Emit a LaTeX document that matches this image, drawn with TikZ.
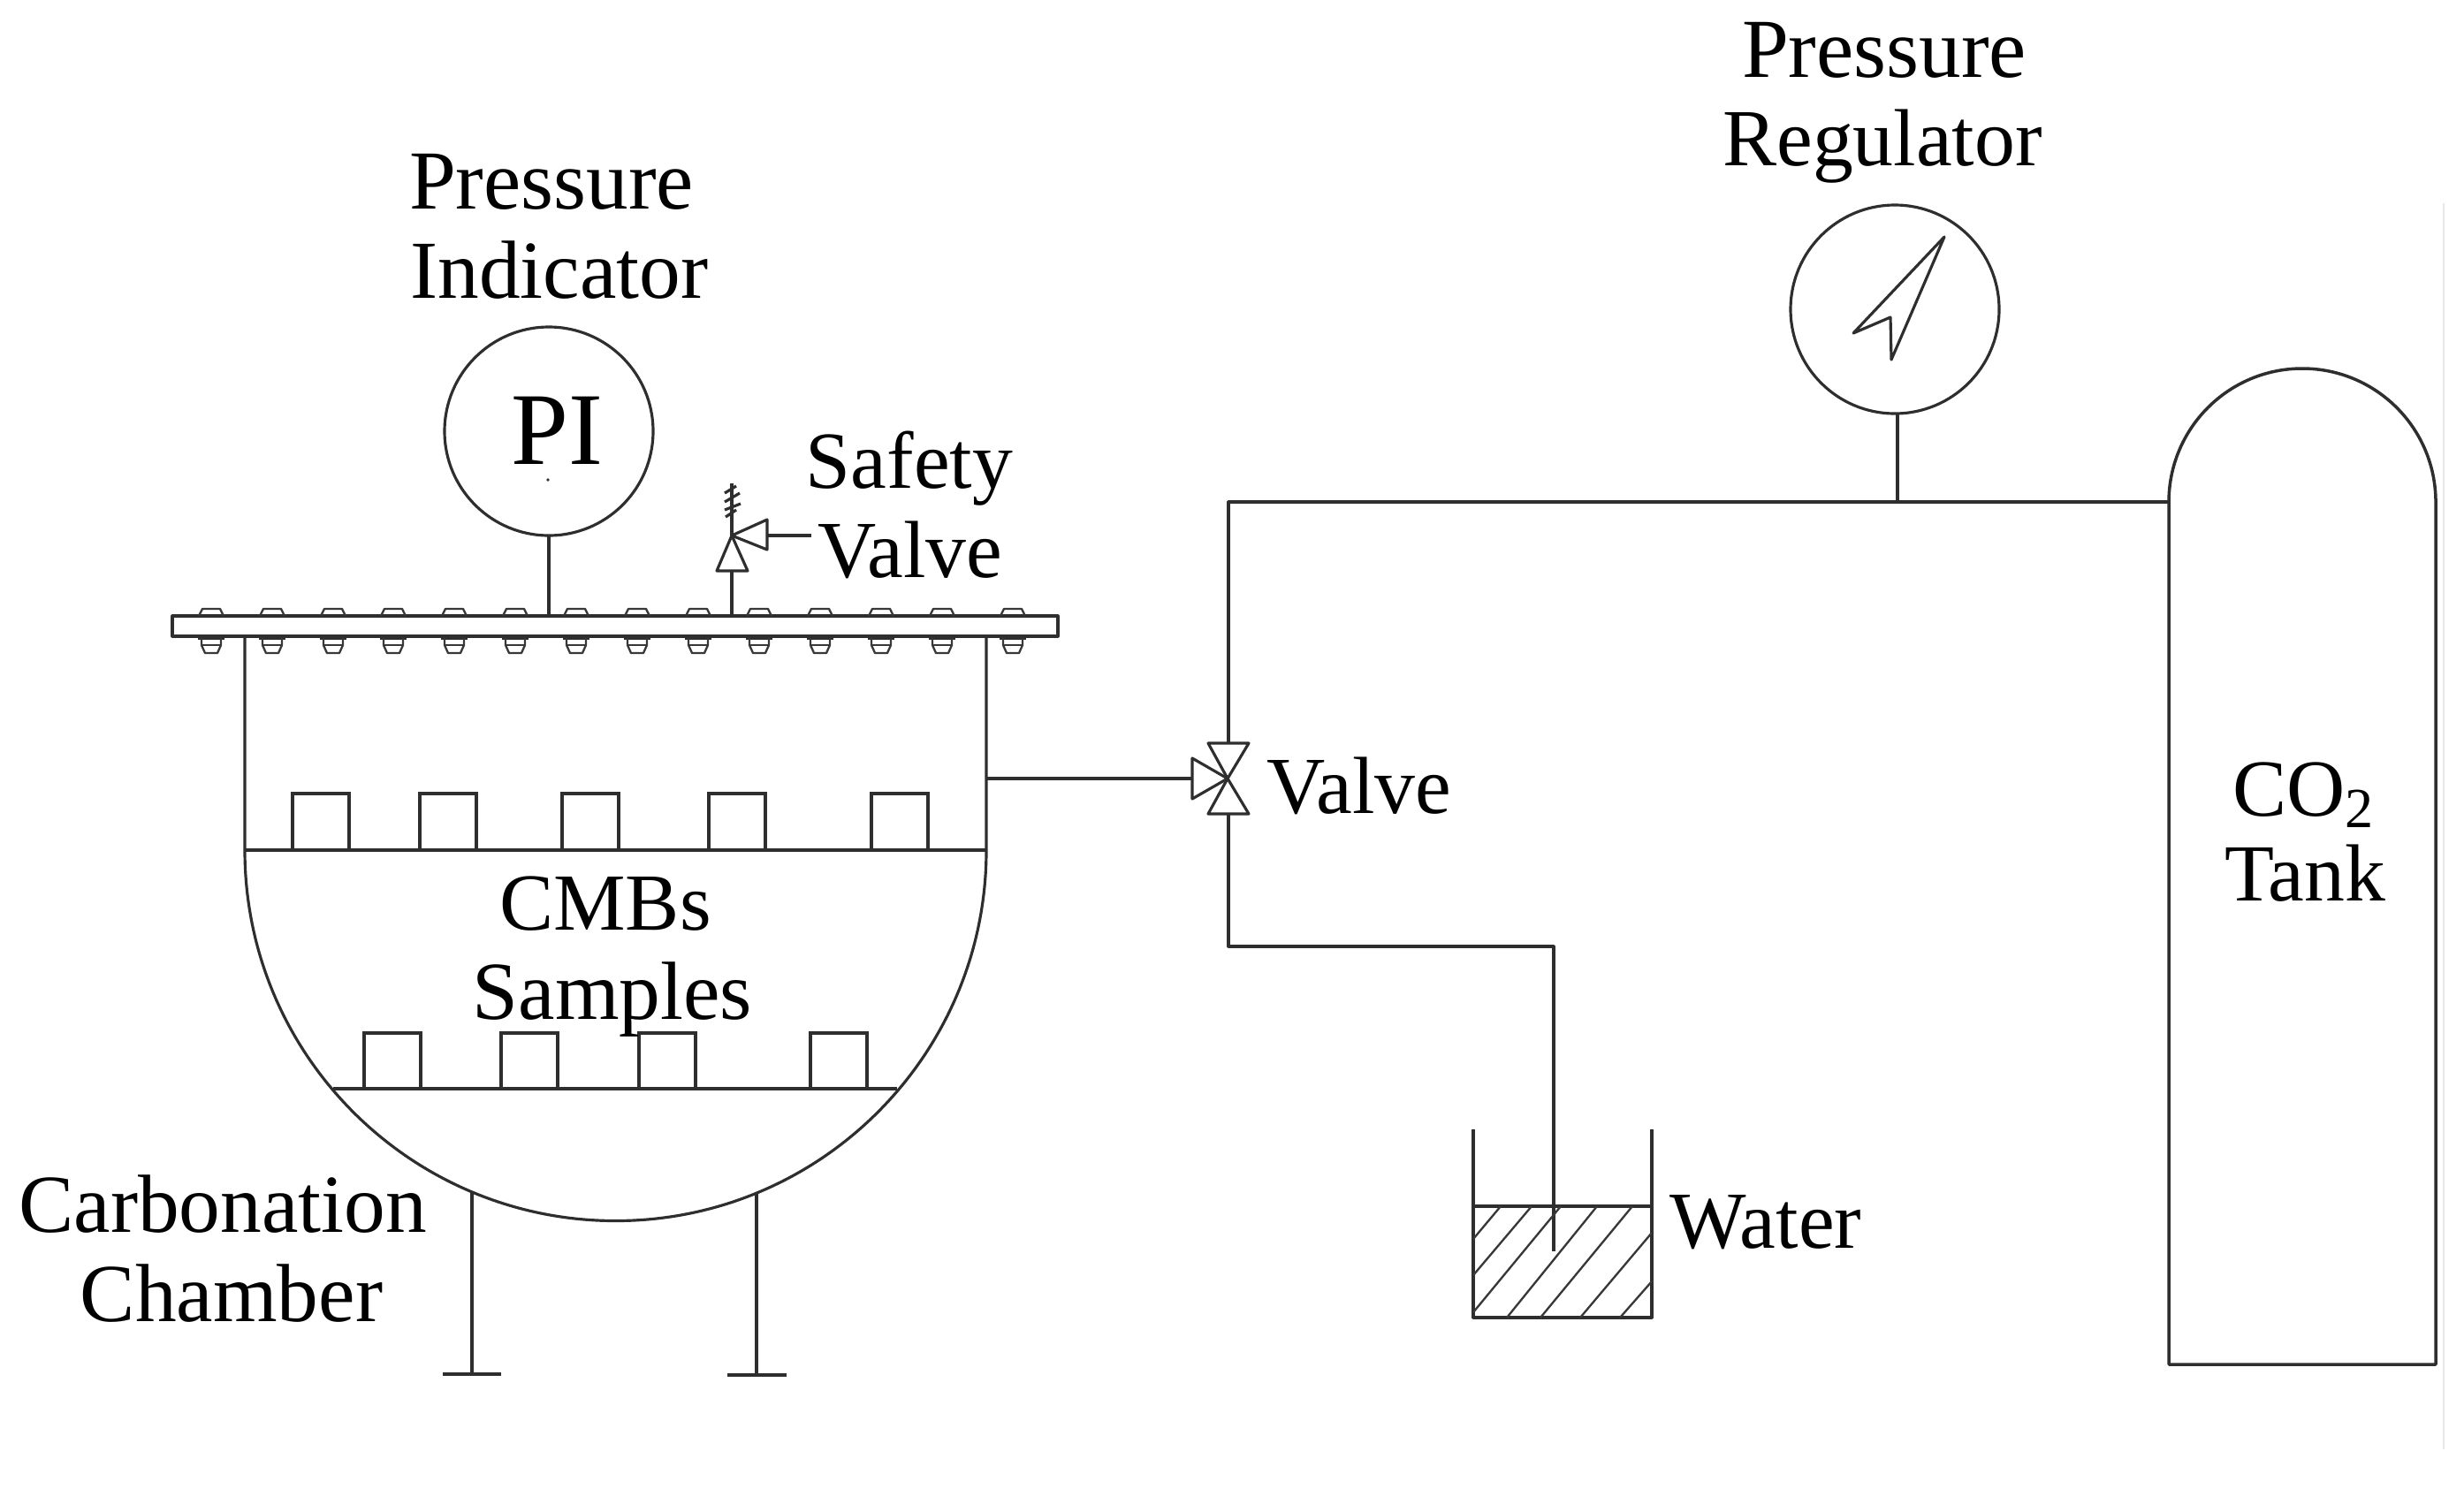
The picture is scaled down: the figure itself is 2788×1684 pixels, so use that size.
\documentclass[tikz,border=0pt]{standalone}
\usepackage{fontspec}
\setmainfont{Liberation Serif}
\tikzset{
  ln/.style={draw=black!82,line width=0.95pt,line join=round},
  thin ln/.style={draw=black!78,line width=0.7pt,line join=round},
  lbl/.style={anchor=base,inner sep=0pt,outer sep=0pt,font=\fontsize{27.5}{30}\selectfont,text=black},
  mid lbl/.style={lbl,font=\fontsize{28}{30}\selectfont},
  wide lbl/.style={lbl,font=\fontsize{28.5}{30}\selectfont},
  gauge/.style={circle,draw=black!82,line width=0.95pt,minimum size=70.8pt,inner sep=0pt,outer sep=0pt},
  sample/.style={draw=black!82,line width=0.95pt}
}
\begin{document}
\begin{tikzpicture}[x=0.3pt,y=-0.3pt]
\useasboundingbox (0,0) rectangle (2788,1684);
% flange and bolts
\draw[ln] (195,697) rectangle (1197,720);
\foreach \b in {239,308,377,445,514,583,652,721,790,859,928,997,1066,1146}{
  \draw[thin ln] (\b-14,697) -- (\b-10,689) -- (\b+10,689) -- (\b+14,697);
  \draw[ln] (\b-15,722) -- (\b+15,722);
  \draw[thin ln] (\b-11,722) -- (\b-11,730) -- (\b-7,739) -- (\b+7,739) -- (\b+11,730) -- (\b+11,722);
  \draw[thin ln] (\b-11,730) -- (\b+11,730);
}
% chamber
\coordinate (wallL) at (277,720);
\coordinate (wallR) at (1116,720);
\coordinate (shelfL) at (277,962);
\coordinate (shelfR) at (1116,962);
\draw[ln] (wallL) -- (shelfL)
  .. controls (277,1193.7) and (464.8,1381.5) .. (696.5,1381.5)
  .. controls (928.2,1381.5) and (1116,1193.7) .. (shelfR) -- (wallR);
\draw[ln] (shelfL) -- (shelfR);
\coordinate (low1) at (377,1232);
\coordinate (low2) at (1015,1232);
\draw[ln] (low1) -- (low2);
\foreach \x in {331,475,636,802,986}{\draw[sample] (\x,898) rectangle (\x+64,962);}
\foreach \x in {412,567,723,917}{\draw[sample] (\x,1169) rectangle (\x+64,1232);}
% legs
\coordinate (leg1) at (534,1349);
\coordinate (foot1) at (534,1555);
\coordinate (leg2) at (856,1350);
\coordinate (foot2) at (856,1556);
\draw[ln] (leg1) -- (foot1);
\draw[ln] (leg2) -- (foot2);
\draw[ln,line width=1.2pt] (501,1555) -- (567,1555);
\draw[ln,line width=1.4pt] (823,1556) -- (890,1556);
% pressure indicator
\node[gauge] (pi) at (621,488) {};
\coordinate (piF) at (pi.south |- 0,697);
\draw[ln] (pi.south) -- (piF);
\node[lbl,font=\fontsize{35}{38}\selectfont] (pit) at (630,525) {PI};
\fill[black!80] (620,543) circle[radius=1.8];
% safety valve
\coordinate (sv) at (828,606);
\coordinate (svF) at (828,697);
\coordinate (svB) at (828,646);
\coordinate (svTop) at (828,547);
\coordinate (svR) at (868,606);
\coordinate (svE) at (918,606);
\draw[ln] (svF) -- (svB);
\draw[ln] (811,646) -- (846,646) -- (sv) -- cycle;
\draw[ln] (868,588) -- (868,622) -- (sv) -- cycle;
\draw[ln] (svR) -- (svE);
\draw[ln] (sv) -- (svTop);
\draw[ln] (820,558) -- (833,550) (820,568) -- (837,558) (820,577) -- (838,570) (821,585) -- (833,577);
% main valve
\coordinate (v) at (1389,881);
\coordinate (vL) at (1349,881);
\coordinate (vT) at (1390,841);
\coordinate (vB) at (1390,921);
\draw[ln] (1349,858) -- (1349,904) -- (v) -- cycle;
\draw[ln] (1367,841) -- (1413,841) -- (v) -- cycle;
\draw[ln] (1367,921) -- (1413,921) -- (v) -- cycle;
\coordinate (chOut) at (1116,881);
\draw[ln] (chOut) -- (vL);
% pipes
\coordinate (pTL) at (1390,568);
\coordinate (tankJ) at (2454,568);
\coordinate (pBL) at (1390,1071);
\coordinate (pBR) at (1758,1071);
\coordinate (pEnd) at (1758,1416);
\draw[ln] (vT) -- (pTL) -- (tankJ);
\draw[ln] (vB) -- (pBL) -- (pBR) -- (pEnd);
% regulator
\node[gauge] (reg) at (2144,350) {};
\coordinate (regJ) at (2147,568);
\draw[ln] (2147,467) -- (regJ);
\draw[ln] (2200,268) -- (2097,377) -- (2139,359) -- (2140,407) -- cycle;
% tank
\draw[ln,line width=1.05pt] (2454,1544) -- (tankJ)
  .. controls (2454,484.6) and (2521.6,417) .. (2605,417)
  .. controls (2688.4,417) and (2756,484.6) .. (2756,568) -- (2756,1544) -- cycle;
\draw[gray!18,line width=0.7pt] (2765,230) -- (2765,1640);
% water vessel
\draw[ln] (1667,1278) -- (1667,1491) -- (1869,1491) -- (1869,1278);
\draw[ln] (1667,1365) -- (1869,1365);
\draw[thin ln] (1667,1402) -- (1698,1365) (1667,1443) -- (1733,1365) (1667,1485) -- (1766,1365)
  (1705,1491) -- (1807,1365) (1743,1491) -- (1847,1365) (1788,1491) -- (1869,1395) (1833,1491) -- (1869,1450);
% labels
\node[wide lbl] (t1) at (624,236) {Pressure};
\node[mid lbl] (t2) at (633,337) {Indicator};
\node[lbl] (t3) at (1029,552) {Safety};
\node[lbl] (t4) at (1030,653) {Valve};
\node[lbl] (t5) at (1538,920) {Valve};
\node[wide lbl] (t6) at (2132,87) {Pressure};
\node[lbl] (t7) at (2130,187) {Regulator};
\node[lbl] (t8) at (2607,923) {CO\textsubscript{2}};
\node[lbl] (t9) at (2608,1019) {Tank};
\node[lbl] (t10) at (685,1052) {CMBs};
\node[mid lbl] (t11) at (693,1153) {Samples};
\node[mid lbl] (t12) at (252,1394) {Carbonation};
\node[mid lbl] (t13) at (262,1495) {Chamber};
\node[lbl] (t14) at (1998,1412) {Water};
\end{tikzpicture}
\end{document}
